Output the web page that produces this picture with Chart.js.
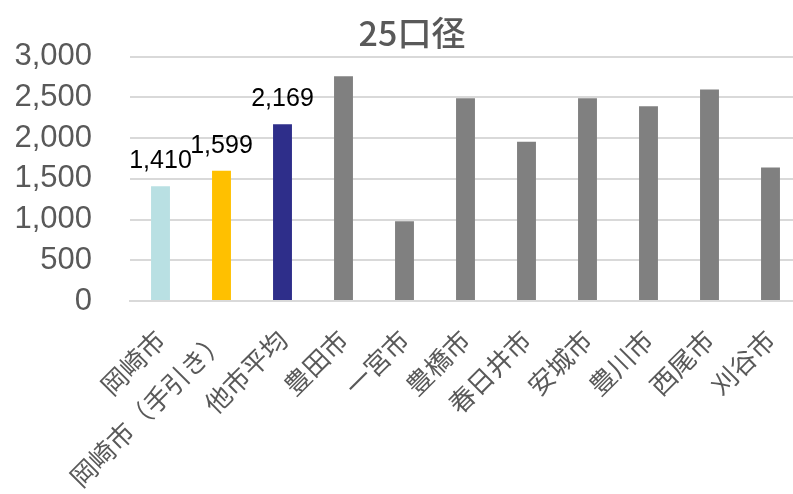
<!DOCTYPE html>
<html>
<head>
<meta charset="utf-8">
<script src="https://cdn.jsdelivr.net/npm/chart.js@4"></script>
<style>
  html, body { margin: 0; padding: 0; background: #ffffff; overflow: hidden; }
  #clip { width: 793px; height: 494px; overflow: hidden; position: relative; }
  #wrap { width: 801px; height: 494px; position: relative; }
</style>
</head>
<body>
<div id="clip"><div id="wrap"><canvas id="c"></canvas></div></div>
<script>
const titleText = '25口径';
const categories = ['岡崎市', '岡崎市（手引き）', '他市平均', '豊田市', '一宮市', '豊橋市', '春日井市', '安城市', '豊川市', '西尾市', '刈谷市'];
const values = [1410, 1599, 2169, 2760, 980, 2490, 1955, 2490, 2390, 2595, 1640];
const barColors = ['#B9E0E3', '#FFC000', '#2E2E8A', '#808080', '#808080', '#808080', '#808080', '#808080', '#808080', '#808080', '#808080'];
const labeledCount = 3;
const yTicks = { min: 0, max: 3000, step: 500 };

const titlePlugin = {
  id: 'customTitle',
  afterDraw(chart) {
    const ctx = chart.ctx;
    ctx.save();
    ctx.font = '500 34px "Noto Sans CJK JP", sans-serif';
    ctx.fillStyle = '#595959';
    ctx.textAlign = 'center';
    ctx.textBaseline = 'middle';
    ctx.fillText(titleText, 412, 33);
    ctx.restore();
  }
};

const valueLabels = {
  id: 'valueLabels',
  afterDatasetsDraw(chart) {
    const ctx = chart.ctx;
    const meta = chart.getDatasetMeta(0);
    ctx.save();
    ctx.font = '25px "Liberation Sans", Arial, sans-serif';
    ctx.fillStyle = '#000000';
    ctx.textAlign = 'center';
    ctx.textBaseline = 'alphabetic';
    for (let i = 0; i < labeledCount; i++) {
      const el = meta.data[i];
      ctx.fillText(values[i].toLocaleString('en-US'), el.x, el.y - 18);
    }
    ctx.restore();
  }
};

new Chart(document.getElementById('c'), {
  type: 'bar',
  data: {
    labels: categories,
    datasets: [{
      data: values,
      backgroundColor: barColors,
      borderWidth: 0,
      categoryPercentage: 1.0,
      barPercentage: 0.31
    }]
  },
  options: {
    responsive: true,
    maintainAspectRatio: false,
    animation: false,
    locale: 'en-US',
    layout: { padding: { top: 55, right: 0, left: 0, bottom: 0 } },
    plugins: {
      legend: { display: false },
      title: { display: false },
      tooltip: { enabled: false }
    },
    scales: {
      x: {
        grid: { display: false },
        border: { display: true, color: '#D9D9D9', width: 2 },
        ticks: {
          color: '#595959',
          font: { family: '"Noto Sans CJK JP", sans-serif', size: 26 },
          minRotation: 45,
          maxRotation: 45,
          autoSkip: false,
          padding: 15
        },
        afterFit(scale) {
          scale.height = 193;
          scale.paddingRight = 0;
          scale.paddingLeft = 0;
        }
      },
      y: {
        min: yTicks.min,
        max: yTicks.max,
        grid: { color: '#D9D9D9', lineWidth: 2, drawTicks: false },
        border: { display: false },
        ticks: {
          stepSize: yTicks.step,
          color: '#595959',
          font: { family: '"Liberation Sans", Arial, sans-serif', size: 31 },
          padding: 38
        },
        afterFit(scale) { scale.width = 130; }
      }
    }
  },
  plugins: [titlePlugin, valueLabels]
});
</script>
</body>
</html>
